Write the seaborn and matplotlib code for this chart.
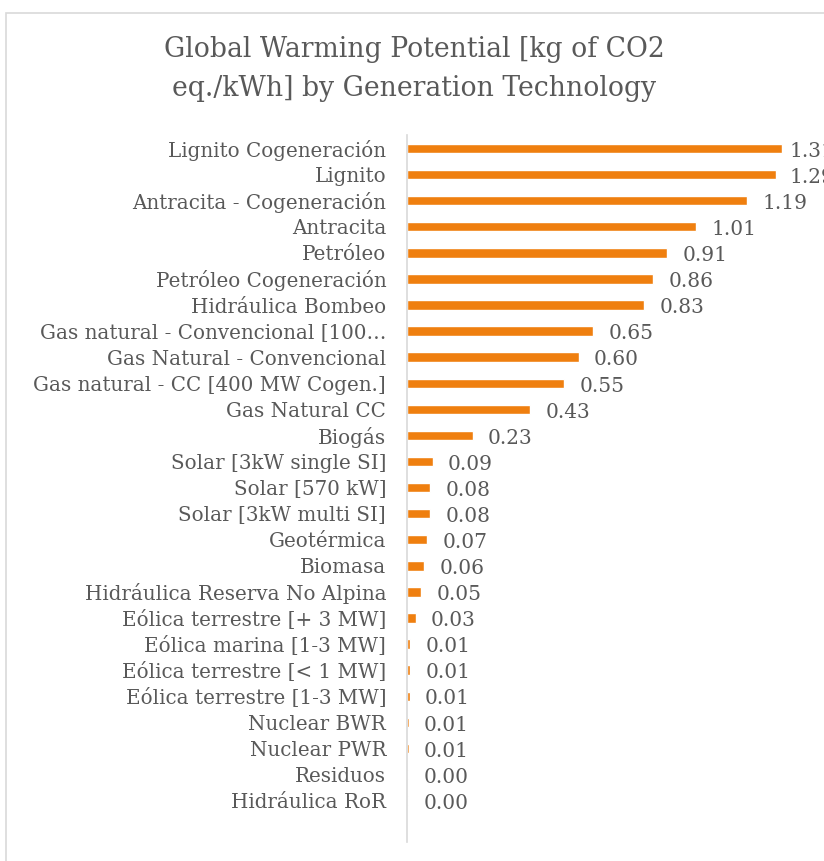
import numpy as np
import pandas as pd
import matplotlib.pyplot as plt
import seaborn as sns
from matplotlib.patches import Rectangle

technologies = [
    "Lignito Cogeneración", "Lignito", "Antracita - Cogeneración", "Antracita",
    "Petróleo", "Petróleo Cogeneración", "Hidráulica Bombeo",
    "Gas natural - Convencional [100…", "Gas Natural - Convencional",
    "Gas natural - CC [400 MW Cogen.]", "Gas Natural CC", "Biogás",
    "Solar [3kW single SI]", "Solar [570 kW]", "Solar [3kW multi SI]",
    "Geotérmica", "Biomasa", "Hidráulica Reserva No Alpina",
    "Eólica terrestre [+ 3 MW]", "Eólica marina [1-3 MW]",
    "Eólica terrestre [< 1 MW]", "Eólica terrestre [1-3 MW]",
    "Nuclear BWR", "Nuclear PWR", "Residuos", "Hidráulica RoR",
]
gwp = [1.31, 1.29, 1.19, 1.01, 0.91, 0.86, 0.83, 0.65, 0.60, 0.55, 0.43, 0.23,
       0.09, 0.08, 0.08, 0.07, 0.06, 0.05, 0.03, 0.011, 0.010, 0.009,
       0.006, 0.006, 0.004, 0.004]

title = "Global Warming Potential [kg of CO2\neq./kWh] by Generation Technology"
bar_color = "#EF7F0F"
text_color = "#595959"

df = pd.DataFrame({"tech": technologies, "gwp": gwp})

sns.set_style("white")
plt.rcParams["font.family"] = ["DejaVu Serif"]

fig = plt.figure(figsize=(8.24, 8.61), dpi=100)
W, H = 824, 861
px_per_unit = 286
ax = fig.add_axes([407 / W, 1 - 842 / H, 1 - 407 / W, (842 - 135) / H])

sns.barplot(data=df, x="gwp", y="tech", orient="h", color=bar_color,
            saturation=1, width=0.36, ax=ax)

n = len(technologies)
xmax = (W - 407) / px_per_unit
ax.set_ylim(n - 1 + 40 / 25.15, -0.52)
ax.set_xlim(0, xmax)

# data labels, Excel style: pulled in a bit when close to the right edge
for i, v in enumerate(gwp):
    room_px = (xmax - v) * px_per_unit - 35
    off = max(4, min(11, room_px * 0.72))
    ax.annotate(f"{v:.2f}", xy=(v, i), xytext=(off, -2), textcoords="offset points",
                ha="left", va="center", fontsize=14.5, color=text_color,
                annotation_clip=False)

ax.set_xlabel("")
ax.set_ylabel("")
ax.set_xticks([])
ax.tick_params(axis="y", length=0, pad=15, labelsize=14.3, labelcolor=text_color)
for s in ["top", "right", "bottom"]:
    ax.spines[s].set_visible(False)
ax.spines["left"].set_color("#d9d9d9")
ax.spines["left"].set_linewidth(1.2)

fig.text(0.503, 1 - 36 / H, title, ha="center", va="top", fontsize=19.2,
         color=text_color, linespacing=1.55)

fig.patches.append(Rectangle((6 / W, -0.1), 1.2, 1 - 13 / H + 0.1,
                             transform=fig.transFigure, fill=False,
                             edgecolor="#d9d9d9", linewidth=1.2))

fig.savefig("out.png", dpi=100)
